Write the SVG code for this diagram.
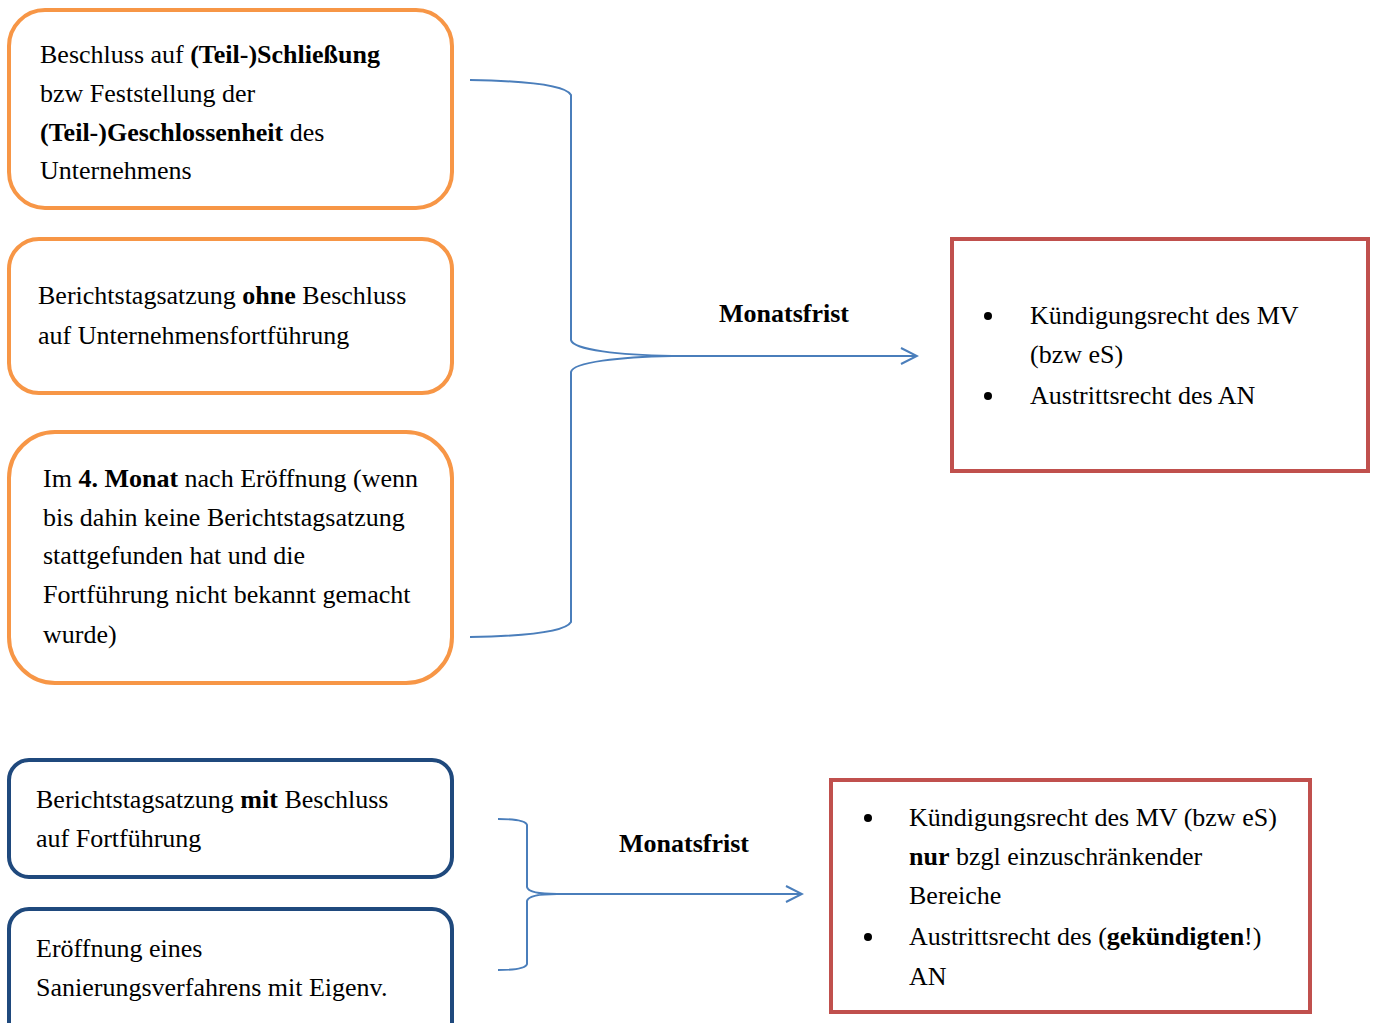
<svg xmlns="http://www.w3.org/2000/svg" width="1377" height="1023" viewBox="0 0 1377 1023">
<style>
text{font-family:"Liberation Serif","Times New Roman",serif;font-size:26px;fill:#000}
.b{font-weight:bold}
.or{fill:#fff;stroke:#F79646;stroke-width:4}
.bl{fill:#fff;stroke:#1F497D;stroke-width:4}
.rd{fill:#fff;stroke:#C0504D;stroke-width:4}
.c{fill:none;stroke:#4A7EBB;stroke-width:2}
</style>
<defs>
<marker id="ah" viewBox="0 0 20 20" refX="18" refY="10" markerWidth="20" markerHeight="20" markerUnits="userSpaceOnUse" orient="auto">
<path d="M2,2 L18,10 L2,18" fill="none" stroke="#4A7EBB" stroke-width="2"/>
</marker>
</defs>
<g id="n1"><rect class="or" x="9" y="10" width="443" height="198" rx="36"/>
<text x="40" y="63">Beschluss auf <tspan class="b">(Teil-)Schließung</tspan></text>
<text x="40" y="102">bzw Feststellung der</text>
<text x="40" y="141"><tspan class="b">(Teil-)Geschlossenheit</tspan> des</text>
<text x="40" y="179">Unternehmens</text></g>
<g id="n2"><rect class="or" x="9" y="239" width="443" height="154" rx="30"/>
<text x="38" y="304">Berichtstagsatzung <tspan class="b">ohne</tspan> Beschluss</text>
<text x="38" y="344">auf Unternehmensfortführung</text></g>
<g id="n3"><rect class="or" x="9" y="432" width="443" height="251" rx="46"/>
<text x="43" y="487">Im <tspan class="b">4. Monat</tspan> nach Eröffnung (wenn</text>
<text x="43" y="526">bis dahin keine Berichtstagsatzung</text>
<text x="43" y="564">stattgefunden hat und die</text>
<text x="43" y="603">Fortführung nicht bekannt gemacht</text>
<text x="43" y="643">wurde)</text></g>
<g id="n4"><rect class="bl" x="9" y="760" width="443" height="117" rx="20"/>
<text x="36" y="808">Berichtstagsatzung <tspan class="b">mit</tspan> Beschluss</text>
<text x="36" y="847">auf Fortführung</text></g>
<g id="n5"><rect class="bl" x="9" y="909" width="443" height="140" rx="20"/>
<text x="36" y="957">Eröffnung eines</text>
<text x="36" y="996">Sanierungsverfahrens mit Eigenv.</text></g>
<g id="r1"><rect class="rd" x="952" y="239" width="416" height="232"/>
<circle cx="988" cy="316" r="4"/><circle cx="988" cy="396" r="4"/>
<text x="1030" y="324">Kündigungsrecht des MV</text>
<text x="1030" y="363">(bzw eS)</text>
<text x="1030" y="404">Austrittsrecht des AN</text></g>
<g id="r2"><rect class="rd" x="831" y="780" width="479" height="232"/>
<circle cx="868" cy="818" r="4"/><circle cx="868" cy="937" r="4"/>
<text x="909" y="826">Kündigungsrecht des MV (bzw eS)</text>
<text x="909" y="865"><tspan class="b">nur</tspan> bzgl einzuschränkender</text>
<text x="909" y="904">Bereiche</text>
<text x="909" y="945">Austrittsrecht des (<tspan class="b">gekündigten</tspan>!)</text>
<text x="909" y="985">AN</text></g>
<g id="connectors">
<path class="c" d="M470,80 C530,81 566,86 571,95 L571,340 C573,350 620,355 672,356 C620,357 573,362 571,372 L571,622 C566,631 530,636 470,637"/>
<path class="c" d="M672,356 L917,356" marker-end="url(#ah)"/>
<text class="b" x="784" y="322" text-anchor="middle">Monatsfrist</text>
<path class="c" d="M498,819 C515,819 526,821 527,825 L527,887 C528,892 540,894 557,894 C540,894 528,896 527,901 L527,964 C526,968 515,970 498,970"/>
<path class="c" d="M557,894 L802,894" marker-end="url(#ah)"/>
<text class="b" x="684" y="852" text-anchor="middle">Monatsfrist</text>
</g>
</svg>
